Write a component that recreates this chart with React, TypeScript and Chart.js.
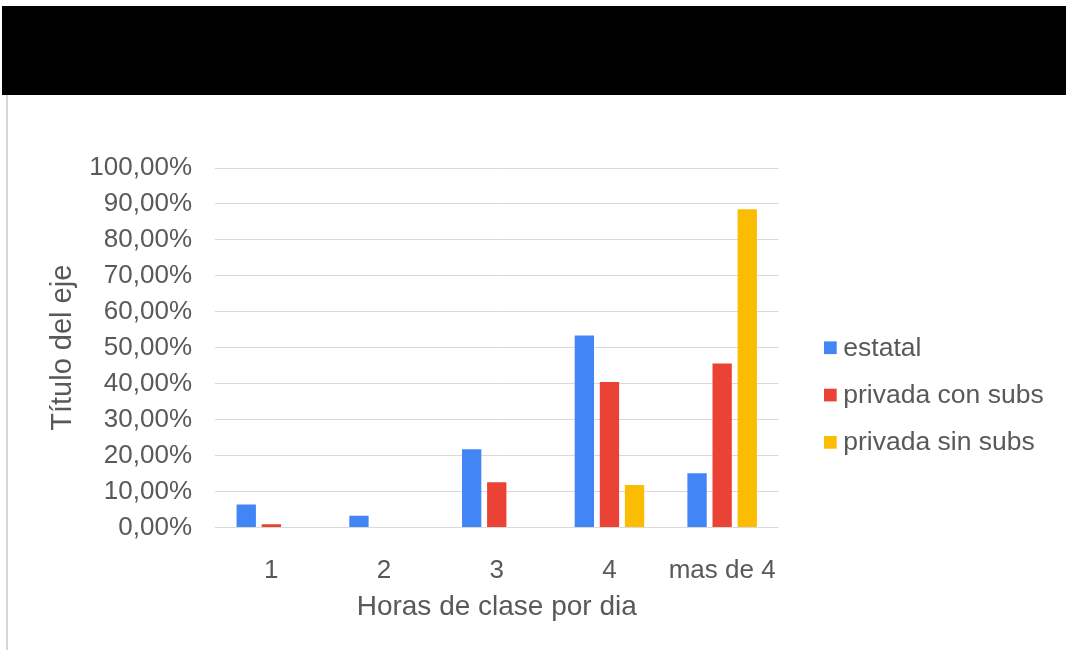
import React, { useEffect, useRef } from "react";
import { Chart, registerables } from "chart.js";

Chart.register(...registerables);

const categories = ["1", "2", "3", "4", "mas de 4"];
const estatal = [6.4, 3.3, 21.8, 53.4, 15.1];
const privadaConSubs = [0.9, 0, 12.6, 40.5, 45.6];
const privadaSinSubs = [0, 0, 0, 11.8, 88.5];
const seriesNames = ["estatal", "privada con subs", "privada sin subs"];
const seriesColors = ["#4285F4", "#EA4335", "#FBBC04"];
const xTitle = "Horas de clase por dia";
const yTitle = "Título del eje";

const FONT = "'Liberation Sans', Arial, sans-serif";
const TEXT = "#595959";

const sideLegend = {
  id: "sideLegend",
  afterDraw(chart: any) {
    const { ctx, chartArea } = chart;
    const x = chartArea.right + 45.5;
    const cy = (chartArea.top + chartArea.bottom) / 2;
    const box = 12.7;
    ctx.save();
    ctx.font = `26.5px ${FONT}`;
    ctx.textBaseline = "middle";
    ctx.textAlign = "left";
    chart.data.datasets.forEach((ds: any, i: number) => {
      const y = cy + i * 47.3;
      ctx.fillStyle = ds.backgroundColor;
      ctx.fillRect(x, y - box / 2, box, box);
      ctx.fillStyle = TEXT;
      ctx.fillText(ds.label, x + 19.3, y + 0.5);
    });
    ctx.restore();
  },
};

export default function App() {
  const ref = useRef<HTMLCanvasElement | null>(null);

  useEffect(() => {
    if (!ref.current) return;
    const seriesData = [estatal, privadaConSubs, privadaSinSubs];
    const chart = new Chart(ref.current, {
      type: "bar",
      data: {
        labels: categories,
        datasets: seriesNames.map((name, i) => ({
          label: name,
          data: seriesData[i],
          backgroundColor: seriesColors[i],
          borderWidth: 0,
          categoryPercentage: 0.668,
          barPercentage: 0.77,
        })),
      },
      options: {
        responsive: false,
        maintainAspectRatio: false,
        animation: false,
        devicePixelRatio: 1,
        layout: { padding: { left: 42, top: 168, right: 287.5, bottom: 20 } },
        plugins: {
          legend: { display: false },
          tooltip: { enabled: false },
        },
        scales: {
          x: {
            grid: { display: false },
            border: { display: false },
            ticks: {
              color: TEXT,
              padding: 20,
              font: { family: FONT, size: 26 },
              maxRotation: 0,
              autoSkip: false,
            },
            title: {
              display: true,
              text: xTitle,
              color: TEXT,
              font: { family: FONT, size: 28 },
              padding: { top: 0, bottom: 6.2 },
            },
            afterFit: (scale: any) => {
              scale.height = 102.5;
            },
          },
          y: {
            min: 0,
            max: 100,
            grid: { color: "#d9d9d9", lineWidth: 1, drawTicks: false },
            border: { display: false },
            ticks: {
              stepSize: 10,
              color: TEXT,
              padding: 23,
              font: { family: FONT, size: 26 },
              callback: (v: any) => Number(v).toFixed(2).replace(".", ",") + "%",
            },
            title: {
              display: true,
              text: yTitle,
              color: TEXT,
              font: { family: FONT, size: 29 },
              padding: { top: 3.6, bottom: 0 },
            },
            afterFit: (scale: any) => {
              scale.width = 173;
            },
          },
        },
      },
      plugins: [sideLegend],
    });
    return () => chart.destroy();
  }, []);

  return (
    <div
      style={{
        position: "absolute",
        left: 0,
        top: 0,
        width: 1066,
        height: 650,
        background: "#ffffff",
        overflow: "hidden",
      }}
    >
      <canvas ref={ref} width={1066} height={650} style={{ display: "block" }} />
      <div
        style={{
          position: "absolute",
          left: 2,
          top: 6,
          width: 1064,
          height: 89,
          background: "#000000",
        }}
      />
      <div
        style={{
          position: "absolute",
          left: 6,
          top: 95,
          width: 2,
          height: 555,
          background: "#d6d6d6",
        }}
      />
    </div>
  );
}
